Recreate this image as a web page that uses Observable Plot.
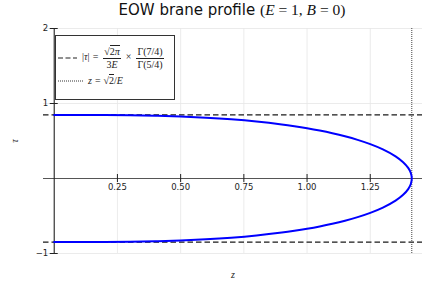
<!DOCTYPE html>
<html><head><meta charset="utf-8">
<script src="https://cdn.jsdelivr.net/npm/d3@7"></script>
<script src="https://cdn.jsdelivr.net/npm/@observablehq/plot@0.6"></script>
<style>
body{margin:0;background:#fff;}
#wrap{position:relative;width:436px;height:291px;overflow:hidden;}
#title{height:20px;line-height:20px;font-family:"DejaVu Sans",sans-serif;font-size:15px;color:#111;text-align:center;padding-left:28px;box-sizing:border-box;width:436px;white-space:nowrap;}
#title .m{font-family:"Liberation Serif",serif;font-size:15.5px;}
.m i{font-style:italic;}
#legend{position:absolute;left:55px;top:35px;width:118px;height:63px;border:1px solid #333;background:#fff;font-family:"Liberation Serif",serif;font-size:10px;color:#222;}
#legend .row{position:absolute;left:2px;display:flex;align-items:center;white-space:nowrap;}
.frac{display:inline-flex;flex-direction:column;align-items:center;vertical-align:middle;margin:0 2px;line-height:11.5px;}
.frac .num{border-bottom:0.8px solid #222;padding:0 1px;}
.ov{border-top:0.8px solid #222;}
.sp{display:inline-block;width:3px;}
</style></head>
<body>
<div id="wrap">
<div id="title">EOW brane profile <span class="m">(<i>E</i> = 1, <i>B</i> = 0)</span></div>
<div id="chart"></div>
<div id="legend">
  <div class="row" style="top:10px;">
    <svg width="20" height="4" style="margin-right:4px"><line x1="0" y1="2" x2="19" y2="2" stroke="#222" stroke-width="1.1" stroke-dasharray="5,2.5"/></svg>
    <span class="m">|<i>τ</i>|<span class="sp"></span>=<span class="sp"></span><span class="frac"><span class="num">√<span class="ov">2<i>π</i></span></span><span class="den">3<i>E</i></span></span><span class="sp"></span>×<span class="sp"></span><span class="frac"><span class="num">Γ(7/4)</span><span class="den">Γ(5/4)</span></span></span>
  </div>
  <div class="row" style="top:39px;">
    <svg width="26" height="4" style="margin-right:4px"><line x1="0" y1="2" x2="25" y2="2" stroke="#333" stroke-width="1" stroke-dasharray="1,1"/></svg>
    <span class="m"><i>z</i><span class="sp"></span>=<span class="sp"></span>√<span class="ov">2</span>/<i>E</i></span>
  </div>
</div>
</div>
<script>
// curve samples (upper branch)
const zVals = [0, 0.1, 0.2, 0.3, 0.4, 0.5, 0.6, 0.7, 0.8, 0.9, 0.95, 1.0, 1.05, 1.1, 1.15, 1.2, 1.25, 1.3, 1.35, 1.38, 1.40, 1.41, 1.41421];
const tauUpper = [0.8472, 0.8470, 0.8459, 0.8427, 0.8365, 0.8263, 0.8110, 0.7893, 0.7599, 0.7211, 0.6974, 0.6704, 0.6395, 0.6040, 0.5631, 0.5153, 0.4584, 0.3883, 0.2956, 0.2177, 0.1412, 0.0771, 0];
const tauStar = 0.8472;
const zStar = 1.41421;
const xTicks = [0.25, 0.5, 0.75, 1.0, 1.25];
const xTickLabels = ["0.25", "0.50", "0.75", "1.00", "1.25"];
const yTicks = [2, 1, -1];
const yTickLabels = ["2", "1", "−1"];
const xDomain = [-0.0424, 1.4566];
const yDomain = [-1, 2];

const upper = zVals.map((z, i) => ({z, tau: tauUpper[i]}));
const lower = zVals.map((z, i) => ({z, tau: -tauUpper[i]})).reverse().slice(1);
const curve = upper.concat(lower);

const tickFont = "DejaVu Sans";
const plot = Plot.plot({
  width: 436,
  height: 271,
  marginTop: 8,
  marginBottom: 38,
  marginLeft: 43,
  marginRight: 14,
  style: {background: "#fff", fontFamily: tickFont},
  x: {domain: xDomain, axis: null},
  y: {domain: yDomain, axis: null},
  marks: [
    Plot.ruleX(xTicks, {stroke: "#e6e6e6", strokeWidth: 0.8}),
    Plot.ruleY(yTicks, {stroke: "#e6e6e6", strokeWidth: 0.8}),
    Plot.ruleY([tauStar, -tauStar], {stroke: "#1a1a1a", strokeWidth: 1.2, strokeDasharray: "5.5,3"}),
    Plot.ruleX([zStar], {stroke: "#444", strokeWidth: 1, strokeDasharray: "1,1"}),
    Plot.ruleY([0], {stroke: "#555", strokeWidth: 1.2}),
    Plot.ruleX([0], {stroke: "#222", strokeWidth: 1.1}),
    Plot.ruleX(xTicks, {y1: () => 0, y2: () => 0, insetTop: -4, insetBottom: -4, stroke: "#222", strokeWidth: 1}),
    Plot.ruleY(yTicks, {x1: () => 0, x2: () => 0, insetLeft: -4, insetRight: -4, stroke: "#222", strokeWidth: 1}),
    Plot.text(xTicks, {x: d => d, y: () => 0, dy: 9, text: (d, i) => xTickLabels[i], fontSize: 8.5, fill: "#222"}),
    Plot.text(yTicks, {x: () => 0, y: d => d, dx: -6, textAnchor: "end", text: (d, i) => yTickLabels[i], fontSize: 8.5, fill: "#222"}),
    Plot.text(["τ"], {frameAnchor: "left", dx: -29, rotate: -90, text: d => d, textAnchor: "middle", lineAnchor: "middle", fontSize: 10, fontStyle: "italic", fontFamily: "Liberation Serif", fill: "#222"}),
    Plot.text(["z"], {frameAnchor: "bottom", dy: 21, text: d => d, textAnchor: "middle", lineAnchor: "middle", fontSize: 10, fontStyle: "italic", fontFamily: "Liberation Serif", fill: "#222"}),
    Plot.line(curve, {x: "z", y: "tau", stroke: "#0000ff", strokeWidth: 2, curve: "catmull-rom"})
  ]
});
document.getElementById("chart").appendChild(plot);
</script>
</body></html>
